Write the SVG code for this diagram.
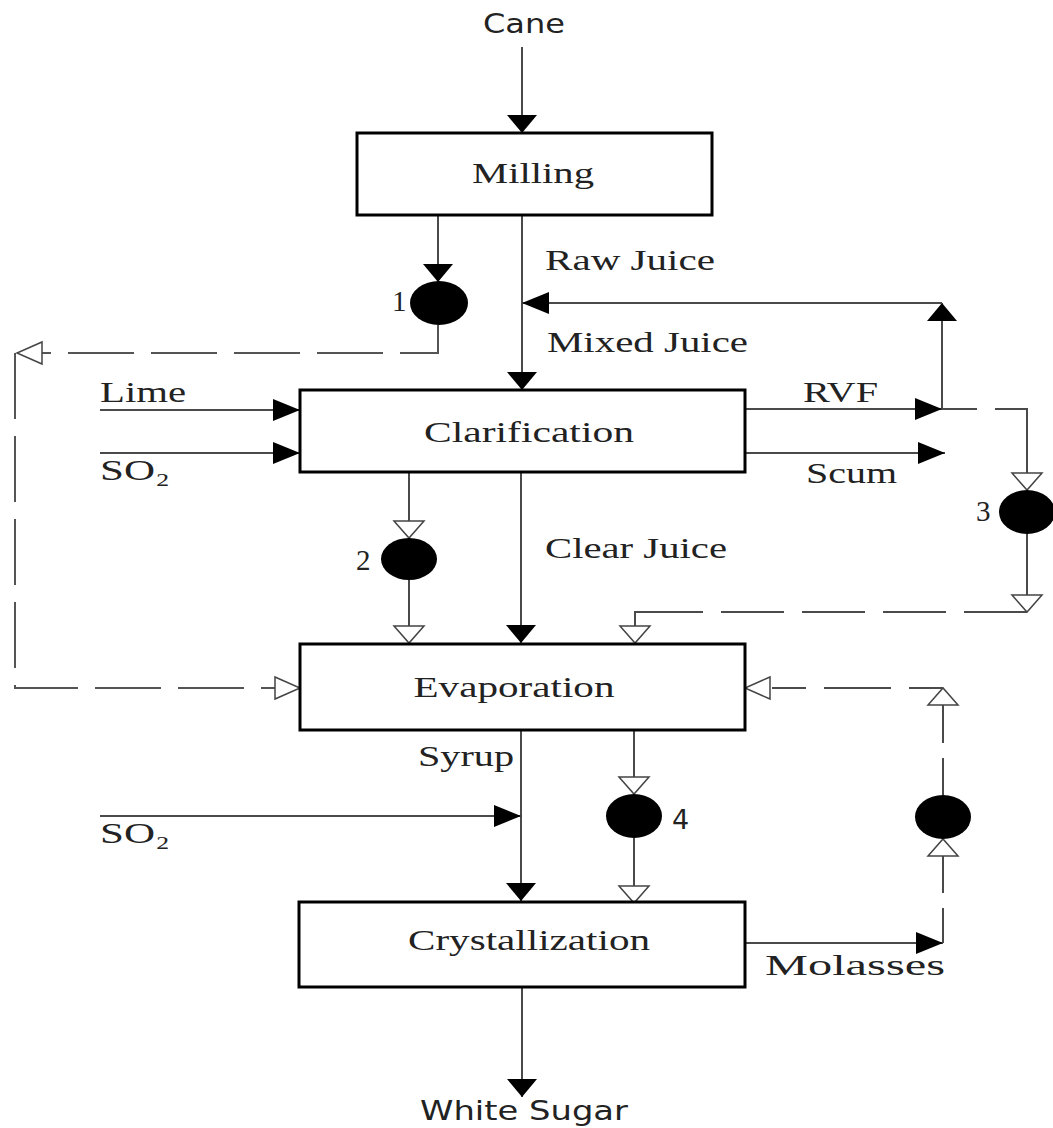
<svg xmlns="http://www.w3.org/2000/svg" width="1053" height="1128" viewBox="0 0 1053 1128">
<style>
.box{fill:#fff;stroke:#000;stroke-width:3}
.ln{fill:none;stroke:#4a4a4a;stroke-width:2}
.ds{fill:none;stroke:#555;stroke-width:2;stroke-dasharray:66 17}
.valve{fill:#000}
.t{font-family:"Liberation Serif","DejaVu Serif",serif;font-size:29px;fill:#222}
.s{font-family:"DejaVu Sans","Liberation Sans",sans-serif;font-size:27px;fill:#222}
.c{text-anchor:middle}
</style>
<defs>
<marker id="fv" markerUnits="userSpaceOnUse" markerWidth="18" markerHeight="30" viewBox="0 0 18 30" refX="18" refY="15" orient="auto"><path d="M0,0 L18,15 L0,30 z" fill="#000"/></marker>
<marker id="fh" markerUnits="userSpaceOnUse" markerWidth="27" markerHeight="22" viewBox="0 0 27 22" refX="27" refY="11" orient="auto"><path d="M0,0 L27,11 L0,22 z" fill="#000"/></marker>
<marker id="ov" markerUnits="userSpaceOnUse" markerWidth="20" markerHeight="34" viewBox="-1 -2 20 34" refX="17" refY="15" orient="auto"><path d="M0,0 L17,15 L0,30 z" fill="#fff" stroke="#444" stroke-width="1.5" stroke-dasharray="none"/></marker>
<marker id="oh" markerUnits="userSpaceOnUse" markerWidth="28" markerHeight="26" viewBox="-1 -2 28 26" refX="25" refY="11" orient="auto"><path d="M0,0 L25,11 L0,22 z" fill="#fff" stroke="#444" stroke-width="1.5" stroke-dasharray="none"/></marker>
</defs>

<g id="connectors">
<path class="ln" d="M522,47 V133" marker-end="url(#fv)"/>
<path class="ln" d="M522,215 V390" marker-end="url(#fv)"/>
<path class="ln" d="M521,472 V643" marker-end="url(#fv)"/>
<path class="ln" d="M521,730 V901" marker-end="url(#fv)"/>
<path class="ln" d="M522,987 V1097" marker-end="url(#fv)"/>
<path class="ln" d="M438,215 V282" marker-end="url(#fv)"/>
<path class="ds" d="M438,325 V353 H17" marker-end="url(#oh)"/>
<path class="ds" d="M15,353 V688 H300" marker-end="url(#oh)"/>
<path class="ln" d="M942,409 V303" marker-end="url(#fv)"/>
<path class="ln" d="M942,303 H522" marker-end="url(#fh)"/>
<path class="ln" d="M745,409 H942" marker-end="url(#fh)"/>
<path class="ln" d="M942,409 H977"/>
<path class="ln" d="M995,409 H1027 V490" marker-end="url(#ov)"/>
<path class="ln" d="M1027,533 V612" marker-end="url(#ov)"/>
<path class="ln" d="M1027,612 H964 M946,612 H883 M865,612 H802 M784,612 H721 M703,612 H635 V643" marker-end="url(#ov)"/>
<path class="ln" d="M745,453 H945" marker-end="url(#fh)"/>
<path class="ln" d="M100,410 H300" marker-end="url(#fh)"/>
<path class="ln" d="M100,453 H300" marker-end="url(#fh)"/>
<path class="ln" d="M409,472 V538" marker-end="url(#ov)"/>
<path class="ln" d="M409,580 V643" marker-end="url(#ov)"/>
<path class="ln" d="M634,730 V794" marker-end="url(#ov)"/>
<path class="ln" d="M634,838 V903" marker-end="url(#ov)"/>
<path class="ln" d="M100,816 H521" marker-end="url(#fh)"/>
<path class="ln" d="M745,943 H943" marker-end="url(#fh)"/>
<path class="ln" d="M943,943 V839" style="stroke-dasharray:35 15 80" marker-end="url(#ov)"/>
<path class="ln" d="M943,795 V688" style="stroke-dasharray:37 15 80" marker-end="url(#ov)"/>
<path class="ln" d="M943,688 H745" style="stroke-dasharray:34 18 67 18" marker-end="url(#oh)"/>
</g>

<g id="milling"><rect class="box" x="357" y="133" width="355" height="82"/><text class="t c" x="533" y="183" textLength="122" lengthAdjust="spacingAndGlyphs">Milling</text></g>
<g id="clarification"><rect class="box" x="300" y="390" width="445" height="82"/><text class="t c" x="529" y="442" textLength="210" lengthAdjust="spacingAndGlyphs">Clarification</text></g>
<g id="evaporation"><rect class="box" x="300" y="644" width="445" height="86"/><text class="t c" x="514" y="697" textLength="201" lengthAdjust="spacingAndGlyphs">Evaporation</text></g>
<g id="crystallization"><rect class="box" x="299" y="902" width="446" height="85"/><text class="t c" x="529" y="950" textLength="242" lengthAdjust="spacingAndGlyphs">Crystallization</text></g>

<g id="valve1"><ellipse class="valve" cx="439" cy="303" rx="29" ry="22"/><text class="t" x="392" y="311">1</text></g>
<g id="valve2"><ellipse class="valve" cx="409" cy="559" rx="28" ry="21"/><text class="t" x="356" y="570">2</text></g>
<g id="valve3"><ellipse class="valve" cx="1027" cy="512" rx="28" ry="22"/><text class="t" x="976" y="521">3</text></g>
<g id="valve4"><ellipse class="valve" cx="634" cy="816" rx="28" ry="22"/><text class="s" x="672" y="829">4</text></g>
<g id="valve5"><ellipse class="valve" cx="943" cy="817" rx="28" ry="22"/></g>

<g id="labels">
<text class="s c" x="524" y="33" textLength="82" lengthAdjust="spacingAndGlyphs">Cane</text>
<text class="t" x="545" y="270" textLength="170" lengthAdjust="spacingAndGlyphs">Raw Juice</text>
<text class="t" x="547" y="352" textLength="201" lengthAdjust="spacingAndGlyphs">Mixed Juice</text>
<text class="t" x="100" y="402" textLength="86" lengthAdjust="spacingAndGlyphs">Lime</text>
<text class="t" x="100" y="480" textLength="70" lengthAdjust="spacingAndGlyphs">SO₂</text>
<text class="t" x="803" y="402" textLength="75" lengthAdjust="spacingAndGlyphs">RVF</text>
<text class="t" x="806" y="483" textLength="91" lengthAdjust="spacingAndGlyphs">Scum</text>
<text class="t" x="545" y="558" textLength="182" lengthAdjust="spacingAndGlyphs">Clear Juice</text>
<text class="t" x="418" y="766" textLength="96" lengthAdjust="spacingAndGlyphs">Syrup</text>
<text class="t" x="100" y="843" textLength="70" lengthAdjust="spacingAndGlyphs">SO₂</text>
<text class="t" x="765" y="975" textLength="180" lengthAdjust="spacingAndGlyphs">Molasses</text>
<text class="s c" x="524" y="1120" textLength="208" lengthAdjust="spacingAndGlyphs">White Sugar</text>
</g>
</svg>
